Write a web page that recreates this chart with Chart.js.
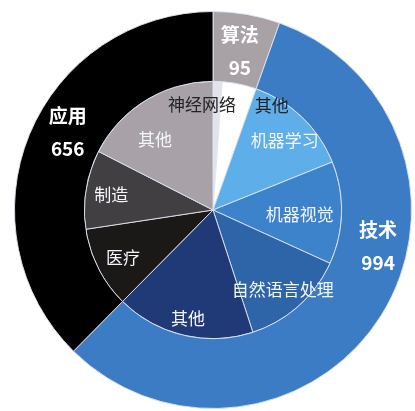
<!DOCTYPE html>
<html>
<head>
<meta charset="utf-8">
<script src="https://cdn.jsdelivr.net/npm/chart.js@4/dist/chart.umd.min.js"></script>
<style>
  html, body { margin: 0; padding: 0; background: #fff; }
  #wrap { width: 415px; height: 411px; }
</style>
</head>
<body>
<div id="wrap"><canvas id="sunburst" width="415" height="411"></canvas></div>
<script>
// outer ring
const groupLabels = ['算法', '技术', '应用'];
const groupValues = [95, 994, 656];
const groupColors = ['#a8a2a7', '#3b7cc5', '#000000'];

// inner pie
const subLabels = ['神经网络', '其他', '机器学习', '机器视觉', '自然语言处理', '其他', '医疗', '制造', '其他'];
const subValues = [20, 75, 235, 225, 230, 304, 178, 173, 305];
const subColors = ['#e4e2ec', '#ffffff', '#5eaeea', '#3d83cc', '#2e64a8', '#1f3a76', '#1b1818', '#423f42', '#a8a2a8'];
const subTextColors = ['#222', '#222', '#f4f6fa', '#f4f6fa', '#f4f6fa', '#f4f6fa', '#f4f6fa', '#f4f6fa', '#f4f6fa'];

// where each label sits: [angle from top in degrees, distance from centre]
const groupLabelSpots = [[9.6, 161], [102.3, 169], [298.3, 165]];
const subLabelSpots = [
    [354, 106], [29.3, 120], [45.8, 100], [93.3, 87], [138.8, 106],
    [193, 111], [242, 102], [278.9, 103], [320.4, 91]
];

const FONT = "'Noto Sans CJK SC', 'Noto Sans', sans-serif";

const sliceLabels = {
    id: 'sliceLabels',
    afterDatasetsDraw(chart) {
        const ctx = chart.ctx;
        ctx.save();
        ctx.textAlign = 'center';
        ctx.textBaseline = 'middle';

        // outer ring: name + total, bold
        chart.getDatasetMeta(0).data.forEach((arc, i) => {
            const [deg, r] = groupLabelSpots[i];
            const a = deg * Math.PI / 180;
            const x = arc.x + r * Math.sin(a);
            const y = arc.y - r * Math.cos(a);
            ctx.fillStyle = '#ffffff';
            ctx.font = 'bold 19px ' + FONT;
            ctx.fillText(groupLabels[i], x, y - 16);
            ctx.fillText(String(groupValues[i]), x, y + 17);
        });

        // inner pie
        chart.getDatasetMeta(1).data.forEach((arc, i) => {
            const [deg, r] = subLabelSpots[i];
            const a = deg * Math.PI / 180;
            const x = arc.x + r * Math.sin(a);
            const y = arc.y - r * Math.cos(a);
            ctx.fillStyle = subTextColors[i];
            ctx.font = '17px ' + FONT;
            ctx.fillText(subLabels[i], x, y);
        });
        ctx.restore();
    }
};

new Chart(document.getElementById('sunburst'), {
    type: 'doughnut',
    data: {
        labels: subLabels,
        datasets: [
            {
                label: '大类',
                data: groupValues,
                backgroundColor: groupColors,
                borderColor: 'rgba(222,228,240,0.9)',
                borderWidth: 1,
                weight: 70
            },
            {
                label: '细分',
                data: subValues,
                backgroundColor: subColors,
                borderColor: 'rgba(222,228,240,0.9)',
                borderWidth: 1,
                weight: 129
            }
        ]
    },
    options: {
        responsive: false,
        animation: false,
        cutout: 0,
        layout: { padding: { left: 14, right: 3, top: 11, bottom: 2 } },
        plugins: {
            legend: { display: false },
            tooltip: { enabled: false }
        }
    },
    plugins: [sliceLabels]
});
</script>
</body>
</html>
